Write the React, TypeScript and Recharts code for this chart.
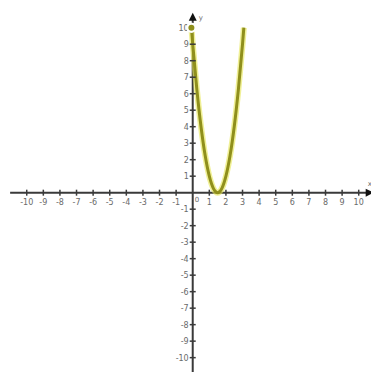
import { LineChart, Line, XAxis, YAxis, ReferenceLine, ReferenceDot } from "recharts"

// points
const curveX = [-0.08, 0, 0.25, 0.5, 0.75, 1, 1.25, 1.5, 1.75, 2, 2.25, 2.5, 2.75, 3, 3.08]
const curveY = [10, 9, 6.25, 4, 2.25, 1, 0.25, 0, 0.25, 1, 2.25, 4, 6.25, 9, 10]

const xTicks = [-10, -9, -8, -7, -6, -5, -4, -3, -2, -1, 1, 2, 3, 4, 5, 6, 7, 8, 9, 10]
const yTicks = [10, 9, 8, 7, 6, 5, 4, 3, 2, 1, -1, -2, -3, -4, -5, -6, -7, -8, -9, -10]

const data = curveX.map((x, i) => ({ x, y: curveY[i] }))

const axisColor = "#3a3a3a"
const labelStyle = { fontFamily: "DejaVu Sans", fontSize: 8, fill: "#6a6a6a" }

const XTick = (props: any) => (
  <g>
    <line x1={props.cx} y1={props.cy - 3} x2={props.cx} y2={props.cy + 3} stroke={axisColor} strokeWidth={1.5} />
    <text x={props.cx} y={props.cy + 12} textAnchor="middle" style={labelStyle}>
      {props.label}
    </text>
  </g>
)

const YTick = (props: any) => (
  <g>
    <line x1={props.cx - 3} y1={props.cy} x2={props.cx + 3} y2={props.cy} stroke={axisColor} strokeWidth={1.5} />
    <text x={props.cx - 4} y={props.cy + 3} textAnchor="end" style={labelStyle}>
      {props.label}
    </text>
  </g>
)

const UpArrow = (props: any) => (
  <g>
    <path d={`M${props.cx},${props.cy - 5} L${props.cx - 4},${props.cy + 3} L${props.cx + 4},${props.cy + 3} Z`} fill="#111" />
    <text x={props.cx + 6} y={props.cy + 2} style={{ ...labelStyle, fontSize: 7 }}>y</text>
  </g>
)

const RightArrow = (props: any) => (
  <g>
    <path d={`M${props.cx + 5},${props.cy} L${props.cx - 3},${props.cy - 4} L${props.cx - 3},${props.cy + 4} Z`} fill="#111" />
    <text x={props.cx - 1} y={props.cy - 7} style={{ ...labelStyle, fontSize: 7 }}>x</text>
  </g>
)

export default function App() {
  return (
    <div style={{ position: "absolute", left: 0, top: 0, background: "#fff" }}>
      <LineChart width={371} height={372} data={data} margin={{ top: 0, right: 0, bottom: 0, left: 0 }}>
        <XAxis type="number" dataKey="x" domain={[-11.61, 10.74]} allowDataOverflow hide />
        <YAxis type="number" domain={[-10.87, 11.68]} allowDataOverflow hide />
        <ReferenceLine segment={[{ x: -11, y: 0 }, { x: 10.6, y: 0 }]} stroke={axisColor} strokeWidth={2} ifOverflow="visible" />
        <ReferenceLine segment={[{ x: 0, y: -10.87 }, { x: 0, y: 10.7 }]} stroke={axisColor} strokeWidth={2} ifOverflow="visible" />
        {xTicks.map((t) => (
          <ReferenceDot key={`x${t}`} x={t} y={0} r={0} shape={(p: any) => <XTick {...p} label={t} />} />
        ))}
        {yTicks.map((t) => (
          <ReferenceDot key={`y${t}`} x={0} y={t} r={0} shape={(p: any) => <YTick {...p} label={t} />} />
        ))}
        <ReferenceDot x={0.25} y={0} r={0} shape={(p: any) => (
          <text x={p.cx} y={p.cy + 9} textAnchor="middle" style={{ ...labelStyle, fontSize: 7 }}>0</text>
        )} />
        <ReferenceDot x={0} y={10.6} r={0} shape={UpArrow} />
        <ReferenceDot x={10.6} y={0} r={0} shape={RightArrow} />
        <Line type="monotone" dataKey="y" stroke="#e6e650" strokeOpacity={0.6} strokeWidth={6} dot={false} isAnimationActive={false} />
        <Line type="monotone" dataKey="y" stroke="#8f8f1c" strokeWidth={3} dot={false} isAnimationActive={false} />
      </LineChart>
    </div>
  )
}
